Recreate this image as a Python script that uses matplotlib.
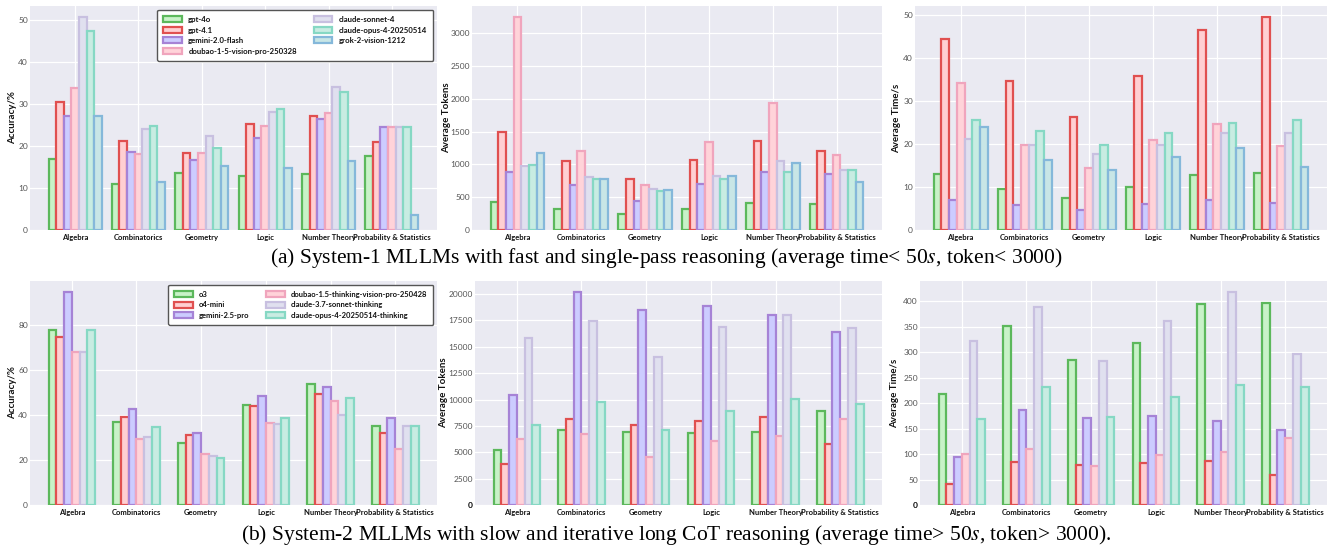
import numpy as np
import matplotlib
matplotlib.use('Agg')
import matplotlib.pyplot as plt
from matplotlib.ticker import MultipleLocator
from matplotlib.font_manager import FontProperties
from matplotlib.textpath import TextPath

plt.rcParams['font.family'] = ['Lato', 'DejaVu Sans']
plt.rcParams['mathtext.fontset'] = 'stix'

NARROW = ['Liberation Sans Narrow', 'Lato', 'DejaVu Sans']

categories = ['Algebra', 'Combinatorics', 'Geometry', 'Logic',
              'Number Theory', 'Probability & Statistics']

# System-1 models
sys1_models = ['gpt-4o', 'gpt-4.1', 'gemini-2.0-flash', 'doubao-1-5-vision-pro-250328',
               'claude-sonnet-4', 'claude-opus-4-20250514', 'grok-2-vision-1212']
sys1_acc = [
    [17.0, 11.0, 13.7, 12.9, 13.4, 17.7],
    [30.6, 21.3, 18.4, 25.4, 27.1, 21.1],
    [27.1, 18.6, 16.6, 22.0, 26.6, 24.6],
    [33.9, 18.1, 18.4, 24.9, 27.9, 24.6],
    [50.9, 24.2, 22.5, 28.2, 34.1, 24.6],
    [47.5, 24.8, 19.6, 28.9, 32.9, 24.6],
    [27.1, 11.5, 15.2, 14.8, 16.5, 3.6],
]
sys1_tokens = [
    [431, 324, 248, 324, 410, 395],
    [1500, 1049, 780, 1059, 1363, 1206],
    [887, 679, 441, 699, 882, 857],
    [3249, 1201, 679, 1343, 1931, 1145],
    [973, 811, 623, 826, 1049, 912],
    [988, 775, 598, 775, 887, 917],
    [1176, 775, 613, 826, 1024, 735],
]
sys1_time = [
    [13.0, 9.6, 7.4, 10.1, 12.8, 13.3],
    [44.5, 34.7, 26.4, 35.8, 46.7, 49.7],
    [7.0, 5.9, 4.7, 6.1, 7.1, 6.4],
    [34.3, 19.8, 14.5, 20.9, 24.8, 19.5],
    [21.3, 19.8, 17.6, 19.9, 22.6, 22.7],
    [25.7, 23.0, 19.8, 22.7, 25.0, 25.6],
    [24.1, 16.3, 14.0, 17.0, 19.1, 14.6],
]

# System-2 models
sys2_models = ['o3', 'o4-mini', 'gemini-2.5-pro', 'doubao-1.5-thinking-vision-pro-250428',
               'claude-3.7-sonnet-thinking', 'claude-opus-4-20250514-thinking']
sys2_acc = [
    [77.9, 36.8, 27.5, 44.2, 53.6, 35.2],
    [74.5, 39.0, 31.1, 44.0, 49.3, 31.8],
    [94.7, 42.7, 32.0, 48.2, 52.4, 38.7],
    [67.7, 29.3, 22.7, 36.2, 46.1, 24.9],
    [67.7, 30.2, 21.9, 35.9, 39.9, 35.2],
    [77.9, 34.6, 20.9, 38.4, 47.4, 35.2],
]
sys2_tokens = [
    [5252, 7076, 6888, 6825, 6919, 8869],
    [3900, 8146, 7579, 7957, 8303, 5755],
    [10441, 20222, 18524, 18901, 18021, 16385],
    [6290, 6762, 4529, 6070, 6542, 8146],
    [15819, 17486, 13995, 16920, 18052, 16731],
    [7611, 9750, 7076, 8932, 10095, 9592],
]
sys2_time = [
    [218.9, 351.8, 284.7, 317.9, 395.4, 396.1],
    [41.7, 84.7, 78.8, 82.7, 86.6, 58.6],
    [93.8, 185.7, 171.3, 173.9, 164.2, 146.6],
    [99.7, 110.1, 75.6, 98.4, 104.9, 130.9],
    [321.8, 389.6, 282.1, 361.6, 418.9, 295.8],
    [168.7, 232.6, 172.6, 212.4, 236.5, 232.6],
]

# (face, edge) per model
sys1_colors = [('#c8f2c8', '#5cb85c'), ('#ffcfd2', '#e05050'), ('#ccccff', '#a683d6'),
               ('#ffd3d9', '#f0a5bd'), ('#e0e0ef', '#c8c0e0'), ('#c8ece2', '#86d8c4'),
               ('#c8e6e6', '#85b8da')]
sys2_colors = [('#c8f2c8', '#5cb85c'), ('#ffcfd2', '#e05050'), ('#ccccff', '#a683d6'),
               ('#ffd3d9', '#f0a5bd'), ('#e0e0ef', '#c8c0e0'), ('#c8ece2', '#86d8c4')]

W, H = 1333, 552
DPI = 100
fig = plt.figure(figsize=(W / DPI, H / DPI), dpi=DPI)


def fit_size(s, target_px, family=NARROW, weight='bold'):
    # font size that makes string s about target_px wide
    prop = FontProperties(family=family, weight=weight, size=10)
    w = TextPath((0, 0), s, size=10, prop=prop).get_extents().width * DPI / 72
    return 10 * target_px / w


XT_SIZE = min(fit_size('Probability & Statistics', 77), 7)
LEG1_SIZE = min(fit_size('doubao-1-5-vision-pro-250328', 108), 7)
LEG2_SIZE = min(fit_size('doubao-1.5-thinking-vision-pro-250428', 136), 7)


def px_axes(x0, y0, x1, y1):
    return fig.add_axes([x0 / W, 1 - y1 / H, (x1 - x0) / W, (y1 - y0) / H])


def draw_panel(ax, data, models, colors, ylabel, step, label_off,
               legend_size=None, bold_zero=False):
    ax.set_facecolor('#eaeaf2')
    for s in ax.spines.values():
        s.set_visible(False)
    x = np.arange(len(categories))
    n = len(models)
    width = 0.12
    for i, (vals, name, (fc, ec)) in enumerate(zip(data, models, colors)):
        ax.bar(x + (i - (n - 1) / 2) * width, vals, width, color=fc, edgecolor=ec,
               linewidth=1.6, label=name, zorder=3)
    ax.set_xticks(x)
    ax.set_xticklabels(categories, fontsize=XT_SIZE, fontweight='bold', color='#111111',
                       family=NARROW)
    ax.yaxis.set_major_locator(MultipleLocator(step))
    ax.tick_params(axis='y', labelsize=6, labelcolor='#555555', length=0, pad=1.5)
    ax.tick_params(axis='x', length=0, pad=3)
    ax.grid(True, color='white', linewidth=0.9, zorder=0)
    ax.set_axisbelow(True)
    ax.set_ylabel(ylabel, fontsize=7, fontweight='bold', color='#111111')
    wpx = ax.get_position().width * W
    ax.yaxis.set_label_coords(-label_off / wpx, 0.5)
    ax.yaxis.label.set_va('center')
    if bold_zero:
        fig.canvas.draw()
        for t in ax.get_yticklabels():
            if t.get_text() == '0':
                t.set_color('black')
                t.set_fontweight('bold')
    if legend_size:
        leg = ax.legend(ncol=2, loc='upper right', frameon=True,
                        prop={'family': NARROW, 'size': legend_size, 'weight': 'bold'},
                        fancybox=True, framealpha=1, edgecolor='#555555',
                        handlelength=2.4, handleheight=0.8, borderpad=0.8,
                        labelspacing=0.45, columnspacing=2.2)
        leg.get_frame().set_linewidth(1.0)
        for t in leg.get_texts():
            t.set_color('#111111')


ax1 = px_axes(30, 6, 437, 230)
ax2 = px_axes(472, 6, 882, 230)
ax3 = px_axes(915, 6, 1327, 230)
ax4 = px_axes(30, 281, 437, 505)
ax5 = px_axes(475, 281, 882, 505)
ax6 = px_axes(920, 281, 1327, 505)

draw_panel(ax1, sys1_acc, sys1_models, sys1_colors, 'Accuracy/%', 10, 17, legend_size=LEG1_SIZE)
draw_panel(ax2, sys1_tokens, sys1_models, sys1_colors, 'Average Tokens', 500, 25)
draw_panel(ax3, sys1_time, sys1_models, sys1_colors, 'Average Time/s', 10, 18)
draw_panel(ax4, sys2_acc, sys2_models, sys2_colors, 'Accuracy/%', 20, 17, legend_size=LEG2_SIZE)
draw_panel(ax5, sys2_tokens, sys2_models, sys2_colors, 'Average Tokens', 2500, 31, bold_zero=True)
draw_panel(ax6, sys2_time, sys2_models, sys2_colors, 'Average Time/s', 50, 25, bold_zero=True)

fig.text(0.5, 1 - 258 / H,
         '(a) System-1 MLLMs with fast and single-pass reasoning (average time< 50$s$, token< 3000)',
         ha='center', va='center', fontsize=15.5, family='Liberation Serif')
fig.text(0.507, 1 - 535 / H,
         '(b) System-2 MLLMs with slow and iterative long CoT reasoning (average time> 50$s$, token> 3000).',
         ha='center', va='center', fontsize=15.5, family='Liberation Serif')

fig.savefig('out.png', dpi=DPI)
